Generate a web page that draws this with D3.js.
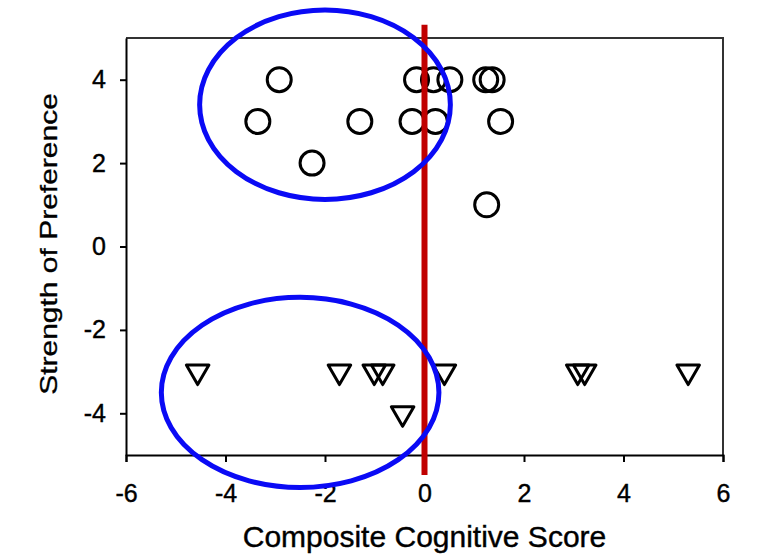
<!DOCTYPE html>
<html>
<head>
<meta charset="utf-8">
<script src="https://cdn.jsdelivr.net/npm/d3@7"></script>
<style>
  body { margin: 0; background: #fff; }
  text { font-family: "Liberation Sans", Arial, sans-serif; }
</style>
</head>
<body>
<div id="chart"></div>
<script>
// points
var circleX = [-2.92, -0.16, 0.18, 0.51, 1.23, 1.36,
               -3.35, -1.30, -0.25, 0.22, 1.53,
               -2.26, 1.25];
var circleY = [4, 4, 4, 4, 4, 4,
               3, 3, 3, 3, 3,
               2, 1];
var triX = [-4.56, -1.71, -1.01, -0.84, 0.40, 3.08, 3.22, 5.30, -0.44];
var triY = [-3, -3, -3, -3, -3, -3, -3, -3, -4];

var xTicks = [-6, -4, -2, 0, 2, 4, 6];
var yTicks = [-4, -2, 0, 2, 4];

// annotation ellipses (data units)
var ellipseCx = [-2.0, -2.5];
var ellipseCy = [3.4, -3.5];
var ellipseRx = [2.52, 2.79];
var ellipseRy = [2.27, 2.28];

var width = 775;
var height = 560;
var margin = {top: 38, right: 52, bottom: 105, left: 126};

var svg = d3.select("#chart")
  .append("svg")
    .attr("width", width)
    .attr("height", height)

var x = d3.scaleLinear().domain([-6, 6]).range([margin.left, width - margin.right]);
var y = d3.scaleLinear().domain([-5, 5]).range([height - margin.bottom, margin.top]);

// frame (top + right)
svg.append("path")
  .attr("d", "M" + x(-6) + "," + y(5) + "H" + x(6) + "V" + y(-5))
  .attr("fill", "none")
  .attr("stroke", "#333")
  .attr("stroke-width", 2)

// axes
var fmt = function(d){ return String(d); };
var xAxis = svg.append("g")
  .attr("transform", "translate(0," + y(-5) + ")")
  .attr("font-size", 25)
  .call(d3.axisBottom(x).tickValues(xTicks).tickFormat(fmt).tickSize(7).tickSizeOuter(7).tickPadding(22))
var yAxis = svg.append("g")
  .attr("transform", "translate(" + x(-6) + ",0)")
  .attr("font-size", 25)
  .call(d3.axisLeft(y).tickValues(yTicks).tickFormat(fmt).tickSize(6).tickSizeOuter(0).tickPadding(14))

svg.selectAll(".domain").attr("stroke", "#000").attr("stroke-width", 2)
svg.selectAll(".tick line").attr("stroke", "#000").attr("stroke-width", 2)
svg.selectAll(".tick text")
  .attr("fill", "#000")
  .attr("stroke", "#000")
  .attr("stroke-width", 0.4)
  .attr("font-family", "'Liberation Sans', Arial, sans-serif")
  .style("font-size", "25px")

// axis titles
svg.append("text")
  .attr("x", x(0))
  .attr("y", 547)
  .attr("text-anchor", "middle")
  .attr("stroke", "#000")
  .attr("stroke-width", 0.4)
  .style("font-size", "30px")
  .text("Composite Cognitive Score")

svg.append("text")
  .attr("transform", "translate(57,244) rotate(-90) scale(1,0.78)")
  .attr("text-anchor", "middle")
  .attr("stroke", "#000")
  .attr("stroke-width", 0.4)
  .style("font-size", "30px")
  .text("Strength of Preference")

// circles
svg.append("g")
  .selectAll("circle")
  .data(circleX)
  .enter()
  .append("circle")
    .attr("cx", function(d){ return x(d); })
    .attr("cy", function(d, i){ return y(circleY[i]); })
    .attr("r", 12)
    .attr("fill", "none")
    .attr("stroke", "#000")
    .attr("stroke-width", 3)

// down triangles
var tri = d3.symbol().type(d3.symbolTriangle).size(220);
svg.append("g")
  .selectAll("path")
  .data(triX)
  .enter()
  .append("path")
    .attr("d", tri)
    .attr("transform", function(d, i){ return "translate(" + x(d) + "," + y(triY[i]) + ") rotate(180)"; })
    .attr("fill", "none")
    .attr("stroke", "#000")
    .attr("stroke-width", 3)
    .attr("stroke-linejoin", "round")

// red line at zero
svg.append("line")
  .attr("x1", x(0)).attr("x2", x(0))
  .attr("y1", y(5.32)).attr("y2", y(-5.48))
  .attr("stroke", "#c00000")
  .attr("stroke-width", 6)

// blue ellipses
svg.append("g")
  .selectAll("ellipse")
  .data(ellipseCx)
  .enter()
  .append("ellipse")
    .attr("cx", function(d){ return x(d); })
    .attr("cy", function(d, i){ return y(ellipseCy[i]); })
    .attr("rx", function(d, i){ return x(ellipseRx[i]) - x(0); })
    .attr("ry", function(d, i){ return y(0) - y(ellipseRy[i]); })
    .attr("fill", "none")
    .attr("stroke", "#0a0af5")
    .attr("stroke-width", 5)
</script>
</body>
</html>
